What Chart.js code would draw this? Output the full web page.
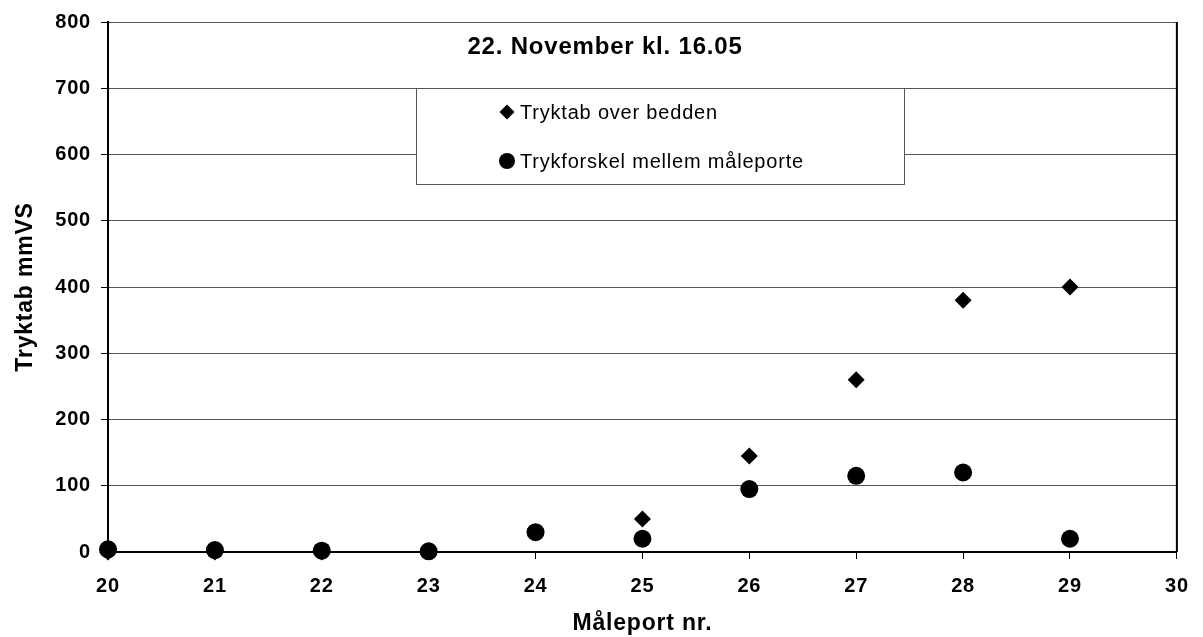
<!DOCTYPE html>
<html>
<head>
<meta charset="utf-8">
<script src="https://cdn.jsdelivr.net/npm/chart.js@4/dist/chart.umd.min.js"></script>
<style>
  html, body { margin: 0; padding: 0; background: #fff; }
  #wrap { width: 1203px; height: 637px; position: relative; }
</style>
</head>
<body>
<div id="wrap"><canvas id="trykChart"></canvas></div>
<script>
// --- data ---
const maaleporte = [20, 21, 22, 23, 24, 25, 26, 27, 28, 29];
const tryktabBedden = [0, 0, 0, 1, 30, 50, 145, 260, 380, 400];
const trykforskel = [4, 3, 2, 1, 30, 20, 95, 115, 120, 20];
const xTicks = [20, 21, 22, 23, 24, 25, 26, 27, 28, 29, 30];
const yTicks = [0, 100, 200, 300, 400, 500, 600, 700, 800];

const titel = '22. November kl. 16.05';
const FONT = "'Liberation Sans', Arial, sans-serif";

const toPoints = (vals) => maaleporte.map((x, i) => ({ x: x, y: vals[i] }));

// slightly wider text spacing for all canvas text
const spacing = {
  id: 'spacing',
  beforeDraw(chart) { chart.ctx.letterSpacing = '0.8px'; }
};

// title, legend box and right frame edge drawn inside the plot
const overlay = {
  id: 'overlay',
  afterDatasetsDraw(chart) {
    const { ctx, chartArea: a } = chart;
    ctx.save();
    // right edge of the frame
    ctx.strokeStyle = '#000';
    ctx.lineWidth = 2;
    ctx.beginPath();
    ctx.moveTo(a.right, a.top);
    ctx.lineTo(a.right, a.bottom);
    ctx.stroke();

    // title
    ctx.fillStyle = '#000';
    ctx.font = 'bold 24px ' + FONT;
    ctx.textBaseline = 'middle';
    ctx.textAlign = 'center';
    ctx.fillText(titel, 605, 47);

    // legend box
    const bx = 416, by = 88, bw = 488, bh = 96;
    ctx.fillStyle = '#fff';
    ctx.fillRect(bx, by, bw, bh);
    ctx.strokeStyle = '#555';
    ctx.lineWidth = 1;
    ctx.strokeRect(bx + 0.5, by + 0.5, bw, bh);

    ctx.font = '20px ' + FONT;
    ctx.textAlign = 'left';
    ctx.fillStyle = '#000';
    chart.data.datasets.forEach((ds, i) => {
      const y = i === 0 ? 112 : 161;
      const mx = 507;
      ctx.beginPath();
      if (ds.pointStyle === 'rectRot') {
        ctx.moveTo(mx - 7.5, y);
        ctx.lineTo(mx, y - 7.5);
        ctx.lineTo(mx + 7.5, y);
        ctx.lineTo(mx, y + 7.5);
        ctx.closePath();
      } else {
        ctx.arc(mx, y, 8, 0, Math.PI * 2);
      }
      ctx.fill();
      ctx.fillText(ds.label, 520, y + 1);
    });
    ctx.restore();
  }
};

const chart = new Chart(document.getElementById('trykChart'), {
  type: 'scatter',
  data: {
    datasets: [{
      label: 'Tryktab over bedden',
      data: toPoints(tryktabBedden),
      pointStyle: 'rectRot',
      pointRadius: 8.5,
      backgroundColor: '#000',
      borderColor: '#000',
      borderWidth: 0,
      clip: false,
      order: 2
    }, {
      label: 'Trykforskel mellem måleporte',
      data: toPoints(trykforskel),
      pointStyle: 'circle',
      pointRadius: 9,
      backgroundColor: '#000',
      borderColor: '#000',
      borderWidth: 0,
      clip: false,
      order: 1
    }]
  },
  options: {
    responsive: true,
    maintainAspectRatio: false,
    animation: false,
    layout: { padding: { top: 22, right: 24, left: 0, bottom: 0 } },
    plugins: {
      legend: { display: false },
      title: { display: false },
      tooltip: { enabled: false }
    },
    scales: {
      x: {
        type: 'linear',
        min: 20,
        max: 30,
        afterBuildTicks: (s) => { s.ticks = xTicks.map(v => ({ value: v })); },
        afterFit: (s) => { s.height = 637 - 552; },
        ticks: { color: '#000', font: { family: FONT, size: 20, weight: 'bold' }, padding: 15 },
        grid: { drawOnChartArea: false, tickLength: 7, tickColor: '#000', tickWidth: 1 },
        border: { color: '#000', width: 2 },
        title: { display: true, text: 'Måleport nr.', color: '#000', font: { family: FONT, size: 23, weight: 'bold' }, padding: { top: 0, bottom: 0 } }
      },
      y: {
        min: 0,
        max: 800,
        afterBuildTicks: (s) => { s.ticks = yTicks.map(v => ({ value: v })); },
        afterFit: (s) => { s.width = 108; },
        ticks: { color: '#000', font: { family: FONT, size: 20, weight: 'bold' }, padding: 10 },
        grid: { color: '#555', lineWidth: 1, tickLength: 7, tickColor: '#000' },
        border: { color: '#000', width: 2 },
        title: { display: true, text: 'Tryktab mmVS', color: '#000', font: { family: FONT, size: 23, weight: 'bold' }, padding: { top: 12, bottom: 0 } }
      }
    }
  },
  plugins: [spacing, overlay]
});
</script>
</body>
</html>
